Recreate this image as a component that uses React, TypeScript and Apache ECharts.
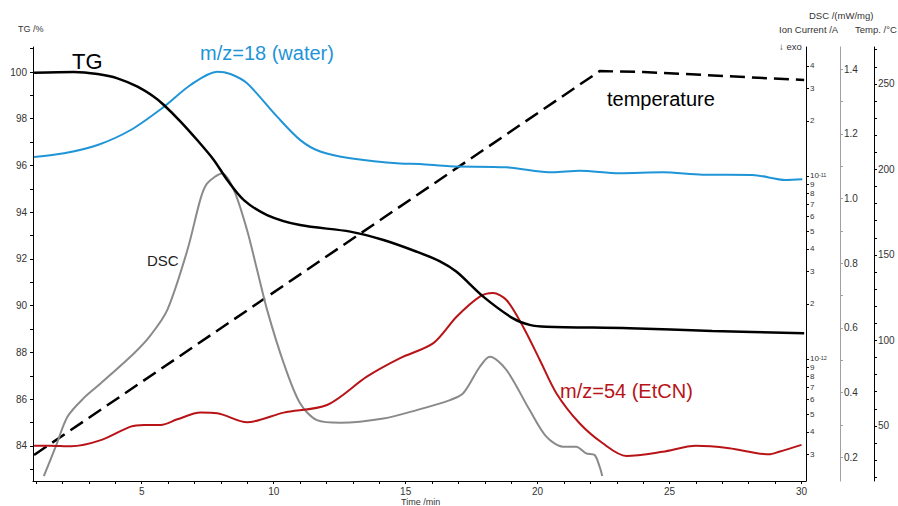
import React, { useEffect, useRef } from "react";
import * as echarts from "echarts";

// ---------- data ----------
const tgTime = [0.92, 2.44, 3.33, 4.08, 4.84, 5.46, 5.84, 6.47, 7.1, 7.73, 8.24, 8.87, 9.75, 11.0, 12.9, 14.16, 15.42, 16.3, 16.93, 17.94, 19.07, 19.7, 20.33, 23.48, 26.62, 30.1];
const tgValues = [99.97, 100.0, 99.91, 99.73, 99.37, 98.94, 98.59, 97.88, 97.09, 96.24, 95.38, 94.52, 93.88, 93.45, 93.17, 92.81, 92.31, 91.9, 91.45, 90.39, 89.46, 89.18, 89.1, 89.04, 88.92, 88.82];

const waterTime = [0.92, 2.06, 3.33, 4.58, 5.84, 6.85, 7.86, 8.36, 8.99, 10.13, 11.01, 11.76, 12.9, 14.79, 15.54, 16.68, 18.82, 20.58, 21.59, 23.1, 24.74, 26.25, 28.14, 29.4, 30.03];
const waterValues = [1.27e-11, 1.33e-11, 1.477e-11, 1.784e-11, 2.39e-11, 3.143e-11, 3.715e-11, 3.607e-11, 3.21e-11, 2.11e-11, 1.57e-11, 1.36e-11, 1.25e-11, 1.17e-11, 1.164e-11, 1.13e-11, 1.115e-11, 1.047e-11, 1.069e-11, 1.035e-11, 1.047e-11, 1.016e-11, 1.013e-11, 9.51e-12, 9.59e-12];

const etcnTime = [0.92, 1.5, 2.32, 3.45, 4.58, 5.08, 5.72, 6.35, 7.23, 7.86, 8.99, 10.38, 12.02, 13.53, 14.79, 16.05, 16.93, 17.81, 18.31, 18.82, 19.45, 20.08, 20.71, 21.59, 22.47, 23.36, 24.74, 26.0, 27.26, 28.77, 29.15, 30.0];
const etcnValues = [3.35e-13, 3.36e-13, 3.33e-13, 3.6e-13, 4.27e-13, 4.36e-13, 4.36e-13, 4.68e-13, 5.09e-13, 5.05e-13, 4.51e-13, 5.09e-13, 5.6e-13, 8.0e-13, 1.01e-12, 1.22e-12, 1.7e-12, 2.19e-12, 2.29e-12, 2.1e-12, 1.5e-12, 9.9e-13, 6.5e-13, 4.45e-13, 3.46e-13, 2.95e-13, 3.11e-13, 3.35e-13, 3.25e-13, 3.01e-13, 3.11e-13, 3.39e-13];

const dscTime = [1.29, 1.75, 2.19, 2.8, 3.45, 4.71, 5.34, 5.97, 6.73, 7.23, 7.48, 8.05, 8.49, 8.99, 9.37, 9.75, 10.38, 11.0, 11.64, 12.52, 14.16, 15.42, 16.68, 17.18, 17.81, 18.19, 18.82, 19.7, 20.33, 20.96, 21.46, 21.84, 22.16, 22.35, 22.45];
const dscValues = [0.142, 0.235, 0.326, 0.383, 0.429, 0.522, 0.578, 0.656, 0.841, 1.0, 1.047, 1.078, 1.027, 0.903, 0.78, 0.656, 0.491, 0.367, 0.315, 0.307, 0.32, 0.346, 0.377, 0.398, 0.48, 0.511, 0.47, 0.346, 0.264, 0.233, 0.233, 0.212, 0.207, 0.171, 0.142];

const tempTime = [0.92, 22.35, 24.0, 30.1];
const tempValues = [33.0, 257.5, 257.0, 252.3];

// ---------- axis ticks / labels ----------
const timeTicks = [1, 2, 3, 4, 5, 6, 7, 8, 9, 10, 11, 12, 13, 14, 15, 16, 17, 18, 19, 20, 21, 22, 23, 24, 25, 26, 27, 28, 29, 30];
const timeLabels = [5, 10, 15, 20, 25, 30];
const tgTicks = [83, 84, 85, 86, 87, 88, 89, 90, 91, 92, 93, 94, 95, 96, 97, 98, 99, 100, 101];
const tgLabels = [84, 86, 88, 90, 92, 94, 96, 98, 100];
const ionTicks = [3e-13, 4e-13, 5e-13, 6e-13, 7e-13, 8e-13, 9e-13, 1e-12, 2e-12, 3e-12, 4e-12, 5e-12, 6e-12, 7e-12, 8e-12, 9e-12, 1e-11, 2e-11, 3e-11, 4e-11];
const dscTicks = [0.2, 0.3, 0.4, 0.5, 0.6, 0.7, 0.8, 0.9, 1.0, 1.1, 1.2, 1.3, 1.4];
const dscLabels = [0.2, 0.4, 0.6, 0.8, 1.0, 1.2, 1.4];
const tempTicks = [20, 30, 40, 50, 60, 70, 80, 90, 100, 110, 120, 130, 140, 150, 160, 170, 180, 190, 200, 210, 220, 230, 240, 250, 260, 270];
const tempLabels = [50, 100, 150, 200, 250];

const FONT = '"Liberation Sans", Arial, sans-serif';
const BLUE = "#1f95d8";
const RED = "#b81418";
const GRAY = "#8a8a8a";

const pairs = (t: number[], v: number[]) => t.map((x, i) => [x, v[i]]);
const logPairs = (t: number[], v: number[]) => t.map((x, i) => [x, Math.log10(v[i])]);

export default function App() {
  const ref = useRef<HTMLDivElement>(null);
  useEffect(() => {
    if (!ref.current) return;
    const chart = echarts.init(ref.current, undefined, { renderer: "svg" });
    const tickLabelStyle = { fontSize: 10, color: "#333", fontFamily: FONT };
    const option: any = {
      animation: false,
      backgroundColor: "#fff",
      grid: { left: 33, right: 92, top: 47, bottom: 25, outerBoundsMode: "none", containLabel: false },
      xAxis: {
        type: "value",
        min: 0.88,
        max: 30.17,
        axisLine: { lineStyle: { color: "#000", width: 1 } },
        axisTick: { customValues: timeTicks, length: 3, lineStyle: { color: "#000" } },
        axisLabel: { customValues: timeLabels, margin: 5, ...tickLabelStyle },
        splitLine: { show: false },
      },
      yAxis: [
        {
          type: "value",
          min: 82.5,
          max: 101.07,
          position: "left",
          axisLine: { show: true, lineStyle: { color: "#000", width: 1 } },
          axisTick: { show: true, customValues: tgTicks, length: 3, lineStyle: { color: "#000" } },
          axisLabel: { customValues: tgLabels, margin: 6, ...tickLabelStyle },
          splitLine: { show: false },
        },
        {
          type: "value",
          min: -12.667,
          max: -10.295,
          position: "right",
          offset: 0,
          axisLine: { show: true, lineStyle: { color: "#000", width: 1 } },
          axisTick: { show: true, customValues: ionTicks.map((v) => Math.log10(v)), length: 3, lineStyle: { color: "#000" } },
          axisLabel: {
            customValues: ionTicks.map((v) => Math.log10(v)),
            hideOverlap: false,
            margin: 4,
            fontSize: 8,
            color: "#333",
            fontFamily: FONT,
            lineHeight: 8,
            formatter: (v: number) => {
              const e = Math.floor(v + 1e-9);
              const m = Math.round(Math.pow(10, v - e));
              return m === 1 ? `{b|10}{s|${e}}` : `{b|${m}}`;
            },
            rich: {
              b: { fontSize: 8, color: "#333", fontFamily: FONT, lineHeight: 8 },
              s: { fontSize: 5.5, color: "#333", fontFamily: FONT, lineHeight: 8, verticalAlign: "top" },
            },
          },
          splitLine: { show: false },
        },
        {
          type: "value",
          min: 0.1267,
          max: 1.469,
          position: "right",
          offset: 34,
          axisLine: { show: true, lineStyle: { color: "#a0a0a0", width: 1 } },
          axisTick: { show: true, customValues: dscTicks, length: 3, lineStyle: { color: "#a0a0a0" } },
          axisLabel: { customValues: dscLabels, margin: 4, ...tickLabelStyle, formatter: (v: number) => v.toFixed(1) },
          splitLine: { show: false },
        },
        {
          type: "value",
          min: 17.8,
          max: 271.6,
          position: "right",
          offset: 68,
          axisLine: { show: true, lineStyle: { color: "#000", width: 1 } },
          axisTick: { show: true, customValues: tempTicks, length: 3, lineStyle: { color: "#000" } },
          axisLabel: { customValues: tempLabels, margin: 4, ...tickLabelStyle },
          splitLine: { show: false },
        },
      ],
      series: [
        {
          name: "Temperature",
          type: "line",
          yAxisIndex: 3,
          data: pairs(tempTime, tempValues),
          showSymbol: false,
          lineStyle: { color: "#000", width: 2.5, type: [15, 7] },
          z: 2,
        },
        {
          name: "DSC",
          type: "line",
          yAxisIndex: 2,
          data: pairs(dscTime, dscValues),
          showSymbol: false,
          smooth: 0.3,
          lineStyle: { color: GRAY, width: 2 },
          z: 3,
        },
        {
          name: "m/z=54",
          type: "line",
          yAxisIndex: 1,
          data: logPairs(etcnTime, etcnValues),
          showSymbol: false,
          smooth: 0.3,
          lineStyle: { color: RED, width: 2 },
          z: 4,
        },
        {
          name: "m/z=18",
          type: "line",
          yAxisIndex: 1,
          data: logPairs(waterTime, waterValues),
          showSymbol: false,
          smooth: 0.3,
          lineStyle: { color: BLUE, width: 2 },
          z: 4,
        },
        {
          name: "TG",
          type: "line",
          yAxisIndex: 0,
          data: pairs(tgTime, tgValues),
          showSymbol: false,
          smooth: 0.3,
          lineStyle: { color: "#000", width: 2.5 },
          z: 5,
        },
      ],
      graphic: [
        { type: "text", left: 18, top: 24, style: { text: "TG /%", fontSize: 9, fill: "#333", fontFamily: FONT } },
        { type: "text", left: 809, top: 10, style: { text: "DSC /(mW/mg)", fontSize: 9.5, fill: "#333", fontFamily: FONT } },
        { type: "text", left: 779, top: 24, style: { text: "Ion Current /A", fontSize: 9.5, fill: "#333", fontFamily: FONT } },
        { type: "text", left: 855, top: 24, style: { text: "Temp. /°C", fontSize: 9.5, fill: "#333", fontFamily: FONT } },
        { type: "text", left: 779, top: 41, style: { text: "↓ exo", fontSize: 9.5, fill: "#333", fontFamily: FONT } },
        { type: "text", left: 72, top: 50, style: { text: "TG", fontSize: 22, fill: "#000", fontFamily: FONT } },
        { type: "text", left: 200, top: 43, style: { text: "m/z=18 (water)", fontSize: 20, fill: BLUE, fontFamily: FONT } },
        { type: "text", left: 607, top: 89, style: { text: "temperature", fontSize: 20, fill: "#000", fontFamily: FONT } },
        { type: "text", left: 560, top: 381, style: { text: "m/z=54 (EtCN)", fontSize: 20, fill: RED, fontFamily: FONT } },
        { type: "text", left: 147, top: 253, style: { text: "DSC", fontSize: 15, fill: "#222", fontFamily: FONT } },
        { type: "text", left: 401, top: 497, style: { text: "Time /min", fontSize: 9, fill: "#333", fontFamily: FONT } },
      ],
    };
    chart.setOption(option);
    return () => chart.dispose();
  }, []);
  return (
    <div
      ref={ref}
      style={{ position: "fixed", left: 0, top: 0, width: 898, height: 506, background: "#fff" }}
    />
  );
}
